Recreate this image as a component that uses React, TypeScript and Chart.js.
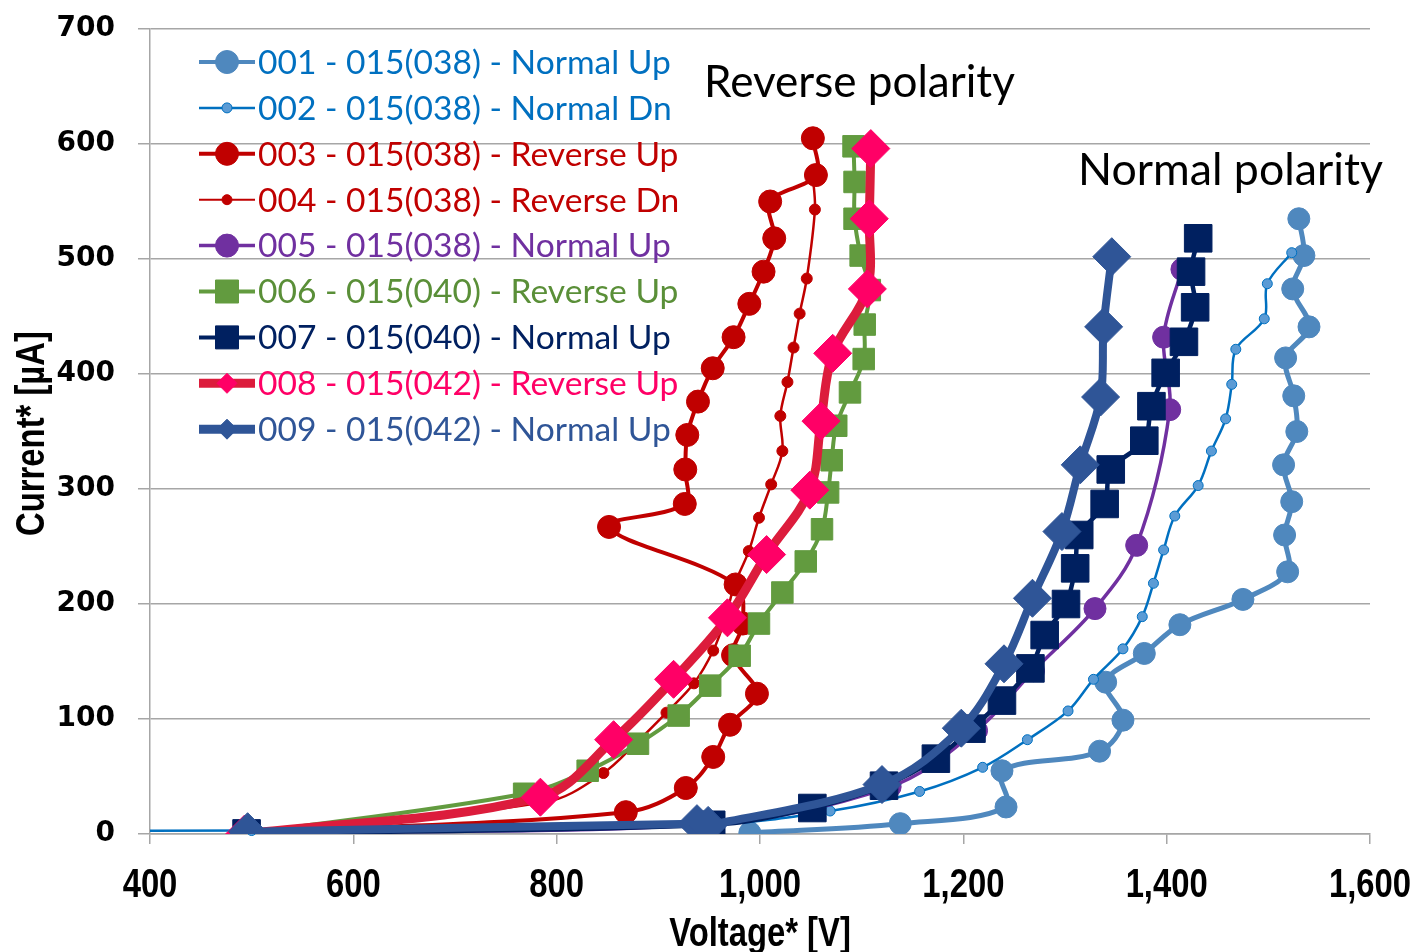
import React, { useEffect, useRef } from 'react';
import { Chart, registerables } from 'chart.js';

Chart.register(...registerables);

// ---------- data ----------
const xTickValues = [400, 600, 800, 1000, 1200, 1400, 1600];
const yTickValues = [0, 100, 200, 300, 400, 500, 600, 700];
const xTitle = 'Voltage* [V]';
const yTitle = 'Current* [µA]';

const seriesNames = [
  '001 - 015(038) - Normal Up',
  '002 - 015(038) - Normal Dn',
  '003 - 015(038) - Reverse Up',
  '004 - 015(038) - Reverse Dn',
  '005 - 015(038) - Normal Up',
  '006 - 015(040) - Reverse Up',
  '007 - 015(040) - Normal Up',
  '008 - 015(042) - Reverse Up',
  '009 - 015(042) - Normal Up',
];

const v001 = [990, 1138, 1242, 1238, 1334, 1357, 1340, 1378, 1413, 1475, 1519, 1516, 1523, 1515, 1528, 1525, 1517, 1540, 1524, 1535, 1530];
const i001 = [1, 9, 23.5, 55, 72, 99, 132, 157, 182, 204, 228, 260, 289, 321, 350, 381, 414, 441, 474, 503, 535];

const v002 = [1523, 1499, 1496, 1468, 1464, 1458, 1444, 1431, 1408, 1397, 1387, 1376, 1357, 1328, 1303, 1263, 1219, 1157, 1069, 950, 500, 300];
const i002 = [505.5, 478.5, 448, 421.5, 391, 361, 333, 303, 276.5, 247, 218, 189, 161, 134.5, 107, 82, 58, 37, 20, 8, 3, 3];

const v003 = [495, 868, 927, 954, 970.5, 997, 973.5, 983, 976, 851.5, 926, 926.5, 928.5, 939, 953.5, 974, 989.5, 1003.5, 1014, 1010, 1055, 1052];
const i003 = [1, 19, 40, 67, 95, 122, 155.5, 183, 217, 267, 287, 317, 347, 376, 405, 432, 461, 489, 518, 550, 573, 605];

const v004 = [1052, 1054, 1046, 1039, 1033, 1027, 1020, 1022, 1011, 999, 989, 975, 966, 954, 935, 908, 878, 846, 790, 495];
const i004 = [572, 543, 483, 452.5, 423, 393, 363.5, 333, 304, 275, 246, 217, 188, 159.5, 131, 105.5, 79, 53, 28, 1];

const v005 = [495, 945, 1128, 1213, 1269, 1329.5, 1370.5, 1403, 1397, 1415];
const i005 = [1, 8, 41, 90, 142, 196, 251, 369, 432, 491];

const v006 = [493, 768, 830.5, 880, 920, 951, 980, 999, 1022, 1045, 1061, 1067, 1070.5, 1075, 1088.5, 1102, 1103, 1108, 1099, 1093, 1093, 1092];
const i006 = [0, 35, 55, 78.5, 103, 129, 155, 183, 210, 237, 265, 297, 325, 355, 384, 413, 443, 473, 503, 535, 567, 598];

const v007 = [495, 952, 1051.5, 1122, 1173, 1208, 1238, 1266, 1280, 1301, 1310, 1314, 1339, 1345, 1378, 1385, 1399, 1417, 1428, 1424, 1431];
const i007 = [0.5, 8, 22.6, 42, 65.5, 91.6, 116, 144, 173, 200, 231, 260, 287, 317, 342, 372, 401, 428, 458, 489, 518];

const v008 = [493, 784, 856, 915, 968, 1006.5, 1049, 1060, 1071.5, 1105.6, 1107.5, 1109];
const i008 = [0, 32, 82, 134.5, 188, 243, 299, 359, 418, 474, 535, 596];

const v009 = [496, 938, 949, 1120, 1198, 1240, 1268, 1297, 1315, 1335, 1338, 1346];
const i009 = [2, 9, 7.5, 43, 92, 148, 205, 263, 321, 380, 441, 502];

const seriesV = [v001, v002, v003, v004, v005, v006, v007, v008, v009];
const seriesI = [i001, i002, i003, i004, i005, i006, i007, i008, i009];

const annotationTexts = ['Reverse polarity', 'Normal polarity'];

// ---------- styles ----------
type Style = {
  line: string; lw: number; shape: 'circle' | 'rect' | 'rectRot';
  r: number; fill: string; stroke: string; text: string; lr: number; llw: number;
};
const styles: Style[] = [
  { line: '#4F88BE', lw: 5, shape: 'circle', r: 11, fill: '#4F88BE', stroke: '#4F88BE', text: '#0070C0', lr: 11.5, llw: 4 },
  { line: '#0070C0', lw: 2.5, shape: 'circle', r: 5, fill: '#5B9BD5', stroke: '#0070C0', text: '#0070C0', lr: 5, llw: 2.5 },
  { line: '#C00000', lw: 4, shape: 'circle', r: 11.5, fill: '#C00000', stroke: '#C00000', text: '#C00000', lr: 11.5, llw: 4 },
  { line: '#C00000', lw: 2.5, shape: 'circle', r: 5.5, fill: '#C00000', stroke: '#C00000', text: '#C00000', lr: 5, llw: 2 },
  { line: '#7030A0', lw: 3.5, shape: 'circle', r: 11, fill: '#7030A0', stroke: '#7030A0', text: '#7030A0', lr: 11.5, llw: 3.5 },
  { line: '#629B3F', lw: 4, shape: 'rect', r: 15.2, fill: '#629B3F', stroke: '#629B3F', text: '#5A8F38', lr: 11.5, llw: 4 },
  { line: '#002060', lw: 4.5, shape: 'rect', r: 19.5, fill: '#002060', stroke: '#002060', text: '#002060', lr: 11.5, llw: 4 },
  { line: '#DC1C3C', lw: 9, shape: 'rectRot', r: 19, fill: '#FF0066', stroke: '#FF0066', text: '#FF0066', lr: 10, llw: 9 },
  { line: '#2F5597', lw: 8, shape: 'rectRot', r: 19, fill: '#2F5597', stroke: '#2F5597', text: '#2F5597', lr: 10, llw: 9 },
];

const textFamily = 'Lato, "Open Sans", sans-serif';
const narrowFont = 'bold 40px "Liberation Sans", Arial, sans-serif';
const narrowScale = 0.82;

function drawMarker(ctx: CanvasRenderingContext2D, shape: string, x: number, y: number, r: number, fill: string, stroke: string) {
  ctx.beginPath();
  if (shape === 'circle') {
    ctx.arc(x, y, r, 0, Math.PI * 2);
  } else if (shape === 'rect') {
    ctx.rect(x - r, y - r, 2 * r, 2 * r);
  } else {
    ctx.moveTo(x - r, y);
    ctx.lineTo(x, y - r);
    ctx.lineTo(x + r, y);
    ctx.lineTo(x, y + r);
    ctx.closePath();
  }
  ctx.fillStyle = fill;
  ctx.fill();
  ctx.lineWidth = 1;
  ctx.strokeStyle = stroke;
  ctx.stroke();
}

function fitFont(ctx: CanvasRenderingContext2D, text: string, width: number, family: string) {
  ctx.font = `100px ${family}`;
  const w = ctx.measureText(text).width;
  const size = (100 * width) / w;
  return `${size}px ${family}`;
}

function narrowText(ctx: CanvasRenderingContext2D, text: string, x: number, y: number, rot: number) {
  ctx.save();
  ctx.translate(x, y);
  if (rot) ctx.rotate(rot);
  ctx.scale(narrowScale, 1);
  ctx.font = narrowFont;
  ctx.fillStyle = '#000000';
  ctx.textAlign = 'center';
  ctx.textBaseline = 'alphabetic';
  ctx.fillText(text, 0, 0);
  ctx.restore();
}

const overlayPlugin = {
  id: 'overlay',
  afterDatasetsDraw(chart: any) {
    const ctx: CanvasRenderingContext2D = chart.ctx;
    ctx.save();
    // legend
    const legendFont = fitFont(ctx, seriesNames[0], 413, textFamily);
    seriesNames.forEach((name, k) => {
      const y = 62 + k * 45.9;
      const st = styles[k];
      ctx.strokeStyle = st.line;
      ctx.lineWidth = st.llw;
      ctx.lineCap = 'butt';
      ctx.beginPath();
      ctx.moveTo(199, y);
      ctx.lineTo(255, y);
      ctx.stroke();
      drawMarker(ctx, st.shape, 227, y, st.lr, st.fill, st.stroke);
      ctx.font = legendFont;
      ctx.fillStyle = st.text;
      ctx.textAlign = 'left';
      ctx.textBaseline = 'middle';
      ctx.fillText(name, 258, y + 1);
    });
    // annotations
    ctx.fillStyle = '#000000';
    ctx.textBaseline = 'alphabetic';
    ctx.font = fitFont(ctx, annotationTexts[0], 311, textFamily);
    ctx.fillText(annotationTexts[0], 704, 97);
    ctx.font = fitFont(ctx, annotationTexts[1], 305, textFamily);
    ctx.fillText(annotationTexts[1], 1078, 185);
    ctx.restore();
  },
  afterDraw(chart: any) {
    const ctx: CanvasRenderingContext2D = chart.ctx;
    const xs = chart.scales.x;
    const area = chart.chartArea;
    xTickValues.forEach((v) => {
      narrowText(ctx, v.toLocaleString('en-US'), xs.getPixelForValue(v), 897, 0);
    });
    narrowText(ctx, xTitle, (area.left + area.right) / 2, 946, 0);
    narrowText(ctx, yTitle, 44, (area.top + area.bottom) / 2 + 2, -Math.PI / 2);
  },
};

export default function App() {
  const canvasRef = useRef<HTMLCanvasElement | null>(null);

  useEffect(() => {
    if (!canvasRef.current) return;
    const datasets = seriesNames.map((name, k) => {
      const st = styles[k];
      return {
        label: name,
        data: seriesV[k].map((x, j) => ({ x, y: seriesI[k][j] })),
        showLine: true,
        borderColor: st.line,
        backgroundColor: st.fill,
        borderWidth: st.lw,
        pointStyle: st.shape,
        pointRadius: st.r,
        pointHoverRadius: st.r,
        pointBackgroundColor: st.fill,
        pointBorderColor: st.stroke,
        pointBorderWidth: 1,
        tension: 0.35,
        order: 9 - k,
        clip: k === 1 ? { left: 0, top: 30, right: 30, bottom: 30 } : undefined,
      };
    });

    const chart = new Chart(canvasRef.current, {
      type: 'scatter',
      data: { datasets: datasets as any },
      plugins: [overlayPlugin as any],
      options: {
        animation: false,
        responsive: true,
        maintainAspectRatio: false,
        devicePixelRatio: 1,
        events: [],
        layout: { padding: { top: 29, right: 47, bottom: 0, left: 0 } },
        plugins: {
          legend: { display: false },
          tooltip: { enabled: false },
        },
        scales: {
          x: {
            type: 'linear',
            min: 400,
            max: 1600,
            afterBuildTicks: (s: any) => {
              s.ticks = xTickValues.map((v) => ({ value: v }));
            },
            afterFit: (s: any) => {
              s.height = 118;
              s.paddingLeft = 0;
              s.paddingRight = 0;
            },
            ticks: { display: false },
            grid: { drawOnChartArea: false, tickLength: 10, color: '#A6A6A6', lineWidth: 1.5 },
            border: { color: '#A6A6A6', width: 1.5 },
            title: { display: false },
          },
          y: {
            type: 'linear',
            min: 0,
            max: 700,
            afterBuildTicks: (s: any) => {
              s.ticks = yTickValues.map((v) => ({ value: v }));
            },
            afterFit: (s: any) => {
              s.width = 150;
              s.paddingTop = 0;
              s.paddingBottom = 0;
            },
            ticks: {
              font: { family: '"DejaVu Sans", sans-serif', weight: 'bold', size: 28 },
              color: '#000000',
              padding: 23,
            },
            grid: { color: '#A6A6A6', lineWidth: 1.5, tickLength: 12 },
            border: { color: '#A6A6A6', width: 1.5 },
            title: { display: false },
          },
        },
      } as any,
    });
    return () => chart.destroy();
  }, []);

  return (
    <div style={{ position: 'fixed', left: 0, top: 0, width: 1417, height: 952, background: '#ffffff' }}>
      <canvas ref={canvasRef} />
    </div>
  );
}
